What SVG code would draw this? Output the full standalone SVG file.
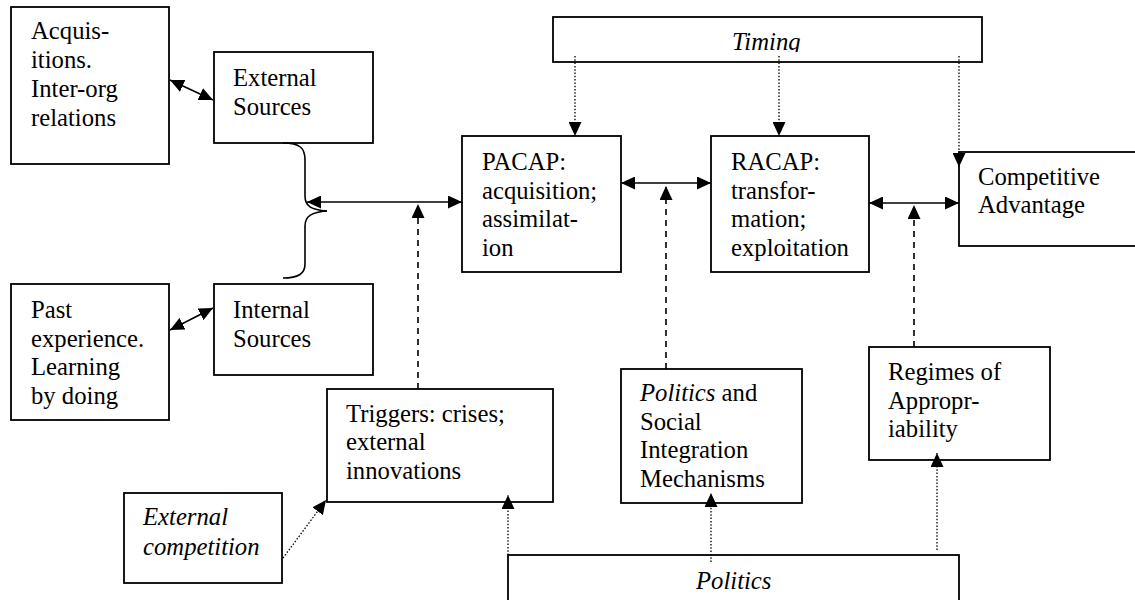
<svg xmlns="http://www.w3.org/2000/svg" width="1135" height="600" viewBox="0 0 1135 600">
<style>
.box{fill:#fff;stroke:#000;stroke-width:1.8}
.t{font-family:'Liberation Serif','Tinos','Times New Roman','DejaVu Serif',serif;font-size:24.7px;fill:#000}
.i{font-style:italic}
.solid{stroke:#000;stroke-width:1.6;fill:none}
.dash{stroke:#000;stroke-width:1.6;fill:none;stroke-dasharray:6,5}
.dot{stroke:#000;stroke-width:1.3;fill:none;stroke-dasharray:1.5,1.8}
</style>
<defs>
<marker id="ah" markerUnits="userSpaceOnUse" markerWidth="14" markerHeight="13" refX="14" refY="6.5" orient="auto-start-reverse">
<path d="M0,0 L14,6.5 L0,13 z" fill="#000"/>
</marker>
<clipPath id="tc"><rect x="553" y="17" width="429" height="35"/></clipPath>
</defs>
<rect width="1135" height="600" fill="#fff"/>

<g id="acquisitions">
<rect class="box" x="11" y="7" width="158" height="157"/>
<text class="t" font-family="Liberation Serif, serif"><tspan x="31" y="39">Acquis-</tspan><tspan x="31" y="68">itions.</tspan><tspan x="31" y="97">Inter-org</tspan><tspan x="31" y="126">relations</tspan></text>
</g>
<g id="external-sources">
<rect class="box" x="214" y="52" width="159" height="91"/>
<text class="t"><tspan x="233" y="86">External</tspan><tspan x="233" y="115">Sources</tspan></text>
</g>
<g id="past-experience">
<rect class="box" x="11" y="284" width="158" height="136"/>
<text class="t"><tspan x="31" y="318">Past</tspan><tspan x="31" y="347">experience.</tspan><tspan x="31" y="375">Learning</tspan><tspan x="31" y="404">by doing</tspan></text>
</g>
<g id="internal-sources">
<rect class="box" x="214" y="284" width="159" height="91"/>
<text class="t"><tspan x="233" y="318">Internal</tspan><tspan x="233" y="347">Sources</tspan></text>
</g>
<g id="timing">
<rect class="box" x="553" y="17" width="429" height="45"/>
<text class="t i" x="732" y="50" clip-path="url(#tc)">Timing</text>
</g>
<g id="pacap">
<rect class="box" x="462" y="136" width="159" height="136"/>
<text class="t"><tspan x="482" y="170">PACAP:</tspan><tspan x="482" y="199">acquisition;</tspan><tspan x="482" y="227">assimilat-</tspan><tspan x="482" y="256">ion</tspan></text>
</g>
<g id="racap">
<rect class="box" x="711" y="136" width="158" height="136"/>
<text class="t"><tspan x="731" y="170">RACAP:</tspan><tspan x="731" y="199">transfor-</tspan><tspan x="731" y="227">mation;</tspan><tspan x="731" y="256">exploitation</tspan></text>
</g>
<g id="competitive-advantage">
<rect class="box" x="959" y="152" width="190" height="94"/>
<text class="t"><tspan x="978" y="185">Competitive</tspan><tspan x="978" y="213">Advantage</tspan></text>
</g>
<g id="triggers">
<rect class="box" x="327" y="389" width="226" height="113"/>
<text class="t"><tspan x="346" y="422">Triggers: crises;</tspan><tspan x="346" y="450">external</tspan><tspan x="346" y="479">innovations</tspan></text>
</g>
<g id="politics-social">
<rect class="box" x="621" y="369" width="181" height="134"/>
<text class="t"><tspan x="640" y="401" font-style="italic">Politics</tspan><tspan> and</tspan><tspan x="640" y="430">Social</tspan><tspan x="640" y="458">Integration</tspan><tspan x="640" y="487">Mechanisms</tspan></text>
</g>
<g id="regimes">
<rect class="box" x="869" y="347" width="181" height="113"/>
<text class="t"><tspan x="888" y="380">Regimes of</tspan><tspan x="888" y="409">Appropr-</tspan><tspan x="888" y="437">iability</tspan></text>
</g>
<g id="external-competition">
<rect class="box" x="124" y="493" width="158" height="90"/>
<text class="t i"><tspan x="143" y="525">External</tspan><tspan x="143" y="555">competition</tspan></text>
</g>
<g id="politics">
<rect class="box" x="508" y="555" width="451" height="60"/>
<text class="t i" x="696" y="589">Politics</text>
</g>

<g id="connectors">
<line class="solid" x1="170" y1="80" x2="213" y2="100" marker-start="url(#ah)" marker-end="url(#ah)"/>
<line class="solid" x1="170" y1="330" x2="213" y2="308" marker-start="url(#ah)" marker-end="url(#ah)"/>
<path class="solid" d="M283,143 C300,143 305,148 305,160 L305,196 C305,206 311,210 327,211"/>
<path class="solid" d="M327,211 C312,212 305,216 305,226 L305,264 C305,274 298,278 283,278"/>
<line class="solid" x1="307" y1="202" x2="462" y2="202" marker-start="url(#ah)" marker-end="url(#ah)"/>
<line class="solid" x1="621" y1="183" x2="711" y2="183" marker-start="url(#ah)" marker-end="url(#ah)"/>
<line class="solid" x1="869" y1="203" x2="959" y2="203" marker-start="url(#ah)" marker-end="url(#ah)"/>
<line class="dash" x1="418" y1="389" x2="418" y2="204" marker-end="url(#ah)"/>
<line class="dash" x1="666" y1="369" x2="666" y2="186" marker-end="url(#ah)"/>
<line class="dash" x1="914" y1="347" x2="914" y2="205" marker-end="url(#ah)"/>
<line class="dot" x1="575" y1="56" x2="575" y2="136" marker-end="url(#ah)"/>
<line class="dot" x1="779" y1="56" x2="779" y2="136" marker-end="url(#ah)"/>
<line class="dot" x1="959" y1="56" x2="959" y2="167" marker-end="url(#ah)"/>
<line class="dot" x1="508" y1="555" x2="508" y2="495" marker-end="url(#ah)"/>
<line class="dot" x1="711" y1="562" x2="711" y2="493" marker-end="url(#ah)"/>
<line class="dot" x1="937" y1="550" x2="937" y2="453" marker-end="url(#ah)"/>
<line class="dot" x1="283" y1="558" x2="326" y2="500" marker-end="url(#ah)"/>
</g>
</svg>
